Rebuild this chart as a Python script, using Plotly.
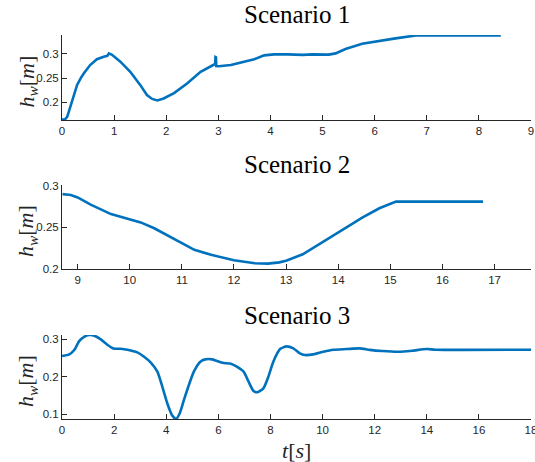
import plotly.graph_objects as go

# ---------------- data ----------------
t1 = [0.00, 0.05, 0.10, 0.16, 0.22, 0.29, 0.36, 0.42, 0.54, 0.67, 0.80, 0.87, 0.90, 0.93,
      0.96, 1.12, 1.31, 1.50, 1.63, 1.73, 1.83, 1.95, 2.15, 2.40, 2.66, 2.92, 2.94, 2.945,
      2.955, 2.96, 3.01, 3.24, 3.49, 3.69, 3.88, 4.07, 4.33, 4.62, 4.80, 5.00, 5.12, 5.25,
      5.44, 5.76, 6.08, 6.40, 6.79, 8.42]
h1 = [0.1650, 0.1640, 0.1700, 0.1910, 0.2150, 0.2360, 0.2500, 0.2600, 0.2770, 0.2890,
      0.2940, 0.2960, 0.3010, 0.3000, 0.2980, 0.2840, 0.2630, 0.2360, 0.2150, 0.2070,
      0.2040, 0.2080, 0.2190, 0.2390, 0.2630, 0.2780, 0.2790, 0.2935, 0.2930, 0.2750,
      0.2745, 0.2770, 0.2840, 0.2890, 0.2970, 0.2990, 0.2990, 0.2980, 0.2990, 0.2980,
      0.2985, 0.3010, 0.3100, 0.3210, 0.3270, 0.3320, 0.3380, 0.3380]

t2 = [8.71, 8.87, 9.00, 9.26, 9.64, 10.00, 10.21, 10.47, 10.73, 11.00, 11.24, 11.56,
      12.00, 12.40, 12.65, 12.87, 13.00, 13.32, 13.64, 14.00, 14.47, 14.79, 15.11, 16.78]
h2 = [0.2900, 0.2890, 0.2860, 0.2770, 0.2660, 0.2600, 0.2560, 0.2490, 0.2400, 0.2310,
      0.2230, 0.2170, 0.2105, 0.2070, 0.2065, 0.2080, 0.2100, 0.2177, 0.2300, 0.2440,
      0.2620, 0.2730, 0.2810, 0.2810]

t3 = [0.00, 0.28, 0.47, 0.66, 0.85, 1.04, 1.24, 1.49, 1.75, 1.97, 2.25, 2.51, 2.89, 3.15,
      3.40, 3.66, 3.85, 4.04, 4.23, 4.38, 4.52, 4.68, 4.87, 5.06, 5.31, 5.50, 5.76, 5.95,
      6.20, 6.45, 6.71, 6.97, 7.16, 7.35, 7.50, 7.73, 7.92, 8.11, 8.37, 8.62, 8.88, 9.13,
      9.32, 9.64, 10.03, 10.41, 10.92, 11.43, 11.81, 12.30, 12.92, 13.43, 14.00, 14.33, 18.00]
h3 = [0.2556, 0.2600, 0.2716, 0.2956, 0.3070, 0.3116, 0.3100, 0.3000, 0.2850, 0.2760,
      0.2750, 0.2724, 0.2653, 0.2538, 0.2387, 0.2138, 0.1738, 0.1293, 0.0964, 0.0876,
      0.1027, 0.1382, 0.1782, 0.2138, 0.2404, 0.2467, 0.2467, 0.2422, 0.2369, 0.2355,
      0.2270, 0.2138, 0.1871, 0.1622, 0.1587, 0.1693, 0.2004, 0.2404, 0.2742, 0.2813,
      0.2760, 0.2627, 0.2582, 0.2600, 0.2671, 0.2724, 0.2742, 0.2760, 0.2720, 0.2689,
      0.2671, 0.2698, 0.2742, 0.2724, 0.2724]

titles = ["Scenario 1", "Scenario 2", "Scenario 3"]
x1_ticks = [0, 1, 2, 3, 4, 5, 6, 7, 8, 9]
x2_ticks = [9, 10, 11, 12, 13, 14, 15, 16, 17]
x3_ticks = [0, 2, 4, 6, 8, 10, 12, 14, 16, 18]
y1_ticks = [0.2, 0.25, 0.3]
y1_labels = ["0.2", "0.25", "0.3"]
y2_ticks = [0.2, 0.25, 0.3]
y2_labels = ["0.2", "0.25", "0.3"]
y3_ticks = [0.1, 0.2, 0.3]
y3_labels = ["0.1", "0.2", "0.3"]
ylabel = "<i>h</i><sub><i>w</i></sub>[<i>m</i>]"
xlabel = "<i>t</i>[<i>s</i>]"

# ---------------- figure ----------------
W, H = 535, 462
LINE = "#0072BD"
AX = "#262626"

def py(p):
    return (H - p) / H

fig = go.Figure()
fig.add_trace(go.Scatter(x=t1, y=h1, mode="lines", line=dict(color=LINE, width=2.6),
                         xaxis="x", yaxis="y", showlegend=False))
fig.add_trace(go.Scatter(x=t2, y=h2, mode="lines", line=dict(color=LINE, width=2.6),
                         xaxis="x2", yaxis="y2", showlegend=False))
fig.add_trace(go.Scatter(x=t3, y=h3, mode="lines", line=dict(color=LINE, width=2.6, shape="spline", smoothing=0.6),
                         xaxis="x3", yaxis="y3", showlegend=False))

tickfont = dict(family="Liberation Sans, Arial, sans-serif", size=11.5, color=AX)

def xax(rng, ticks, anchor):
    return dict(range=rng, tickvals=ticks, ticks="inside", ticklen=5, tickcolor=AX,
                showline=True, linecolor=AX, linewidth=1, showgrid=False, zeroline=False,
                tickfont=tickfont, anchor=anchor, domain=[0, 1], automargin=False,
                ticklabeloverflow="allow")

def yax(rng, ticks, labels, dom, anchor):
    return dict(range=rng, tickvals=ticks, ticktext=labels, ticks="inside", ticklen=5,
                tickcolor=AX, showline=True, linecolor=AX, linewidth=1, showgrid=False,
                zeroline=False, tickfont=tickfont, domain=dom, anchor=anchor,
                automargin=False)

tops = [35, 185, 335]
bots = [120, 269, 419]

fig.update_layout(
    width=W, height=H,
    margin=dict(l=62, r=4, t=0, b=0),
    plot_bgcolor="white", paper_bgcolor="white",
    xaxis=xax([0, 9], x1_ticks, "y"),
    xaxis2=xax([8.7, 17.7], x2_ticks, "y2"),
    xaxis3=xax([0, 18], x3_ticks, "y3"),
    yaxis=yax([0.1635, 0.339], y1_ticks, y1_labels, [py(bots[0]), py(tops[0])], "x"),
    yaxis2=yax([0.2, 0.301], y2_ticks, y2_labels, [py(bots[1]), py(tops[1])], "x2"),
    yaxis3=yax([0.0873, 0.3118], y3_ticks, y3_labels, [py(bots[2]), py(tops[2])], "x3"),
)

serif = "Liberation Serif, Times New Roman, serif"
annotations = []
for i, title in enumerate(titles):
    annotations.append(dict(text=title, xref="paper", yref="paper", x=0.5,
                            y=py(tops[i] - 20), xanchor="center", yanchor="middle",
                            showarrow=False, font=dict(family=serif, size=25, color="black")))
    annotations.append(dict(text=ylabel, xref="paper", yref="paper", x=(27 - 62) / 469,
                            y=py((tops[i] + bots[i]) / 2 + 4), xanchor="center",
                            yanchor="middle", textangle=-90, showarrow=False,
                            font=dict(family=serif, size=22, color=AX)))
annotations.append(dict(text=xlabel, xref="paper", yref="paper", x=0.5, y=py(450),
                        xanchor="center", yanchor="middle", showarrow=False,
                        font=dict(family=serif, size=22, color=AX)))
fig.update_layout(annotations=annotations)

fig.write_html(
    "out.html",
    config={"displayModeBar": False},
    post_script="document.body.style.margin='0';document.body.style.padding='0';"
                "document.body.style.overflow='hidden';",
)
